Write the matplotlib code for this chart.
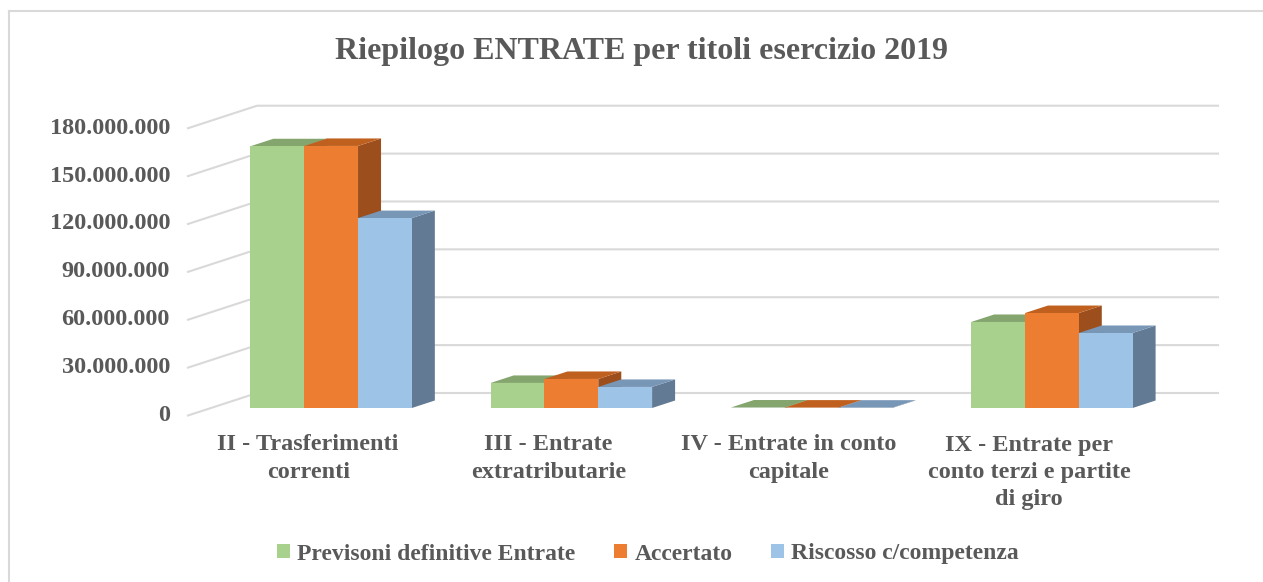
import matplotlib
matplotlib.use("Agg")
import matplotlib.pyplot as plt
from matplotlib.patches import Polygon, Patch
from matplotlib.lines import Line2D
import matplotlib.transforms as mtransforms
import numpy as np

categories = ["II - Trasferimenti\ncorrenti",
              "III - Entrate\nextratributarie",
              "IV - Entrate in conto\ncapitale",
              "IX - Entrate per\nconto terzi e partite\ndi giro"]
series_names = ["Previsoni definitive Entrate", "Accertato", "Riscosso c/competenza"]
previsioni = [164000000, 15700000, 300000, 53900000]
accertato = [164200000, 18200000, 250000, 59500000]
riscosso = [119000000, 13200000, 200000, 47000000]
yticks = [0, 30000000, 60000000, 90000000, 120000000, 150000000, 180000000]
ytick_labels = ["0", "30.000.000", "60.000.000", "90.000.000",
                "120.000.000", "150.000.000", "180.000.000"]
title = "Riepilogo ENTRATE per titoli esercizio 2019"

front_cols = ["#A9D18E", "#ED7D31", "#9DC3E6"]
top_cols = ["#84A56E", "#C0601F", "#7896B6"]
side_cols = ["#6E8C5A", "#9C4F1C", "#627A93"]
txt_col = "#595959"
grid_col = "#D9D9D9"
FONT = "Liberation Serif"

W, H = 1263, 582
fig = plt.figure(figsize=(W / 100, H / 100), dpi=100)
x_left, x_right = 211, 1172
y_bot, y_top = 408, 408 - 180 * 1.596
ax = fig.add_axes([x_left / W, 1 - y_bot / H, (x_right - x_left) / W, (y_bot - y_top) / H])
ax.set_xlim(-0.5, 3.5)
ax.set_ylim(0, 180000000)
ax.axis("off")

FRONT = (-23, -7.5)   # floor front relative to bar plane (display px, y up)
BACK = (46, 15)       # back wall relative to bar plane
DEPTH = (23, 7.5)     # bar depth

def disp(x, y, off=(0, 0)):
    p = ax.transData.transform((x, y))
    return (p[0] + off[0], p[1] + off[1])

ident = mtransforms.IdentityTransform()

for v in yticks:
    a = disp(-0.5, v, FRONT)
    b = disp(-0.5, v, BACK)
    c = disp(3.5, v, BACK)
    ln = Line2D([a[0], b[0], c[0]], [a[1], b[1], c[1]], transform=ident,
                color=grid_col, lw=1.5, zorder=1, clip_on=False)
    ax.add_line(ln)

for v, lab in zip(yticks, ytick_labels):
    a = disp(-0.5, v, FRONT)
    fig.text(a[0] - 18, a[1], lab, transform=ident, ha="right", va="center",
             fontsize=17.5, fontweight="bold", color=txt_col, family=FONT)

n = len(categories)
bw = 0.224
data = [previsioni, accertato, riscosso]
z = 2
for i in range(n):
    for s in range(3):
        v = data[s][i]
        x0 = i + (s - 1.5) * bw
        x1 = x0 + bw
        side = [disp(x1, 0), disp(x1, 0, DEPTH), disp(x1, v, DEPTH), disp(x1, v)]
        ax.add_patch(Polygon(side, closed=True, transform=ident, facecolor=side_cols[s],
                             edgecolor="none", zorder=z, clip_on=False)); z += 0.01
        top = [disp(x0, v), disp(x1, v), disp(x1, v, DEPTH), disp(x0, v, DEPTH)]
        ax.add_patch(Polygon(top, closed=True, transform=ident, facecolor=top_cols[s],
                             edgecolor="none", zorder=z, clip_on=False)); z += 0.01
        ax.bar(x0, v, width=bw, align="edge", color=front_cols[s], edgecolor="none",
               zorder=z, clip_on=False); z += 0.01

for i, lab in enumerate(categories):
    a = disp(i, 0, FRONT)
    fig.text(a[0], a[1] - 19, lab, transform=ident, ha="center", va="top",
             fontsize=17.5, fontweight="bold", color=txt_col, family=FONT,
             linespacing=1.38)

fig.text(0.5 * (338 + 945) / W, 1 - 51 / H, title, ha="center", va="center",
         fontsize=23, fontweight="bold", color=txt_col, family=FONT)

handles = [Patch(facecolor=c, edgecolor="none") for c in front_cols]
leg = fig.legend(handles, series_names, loc="center", bbox_to_anchor=(648 / W, 1 - 554 / H),
                 ncol=3, frameon=False, handlelength=0.55, handleheight=0.55,
                 handletextpad=0.3, columnspacing=1.65,
                 prop={"family": FONT, "weight": "bold", "size": 17})
for t in leg.get_texts():
    t.set_color(txt_col)

fig.add_artist(Line2D([9 / W, 9 / W], [0, 1 - 11 / H], transform=fig.transFigure,
                      color="#D9D9D9", lw=1.5))
fig.add_artist(Line2D([9 / W, 1], [1 - 11 / H, 1 - 11 / H], transform=fig.transFigure,
                      color="#D9D9D9", lw=1.5))

fig.savefig("out.png", dpi=100, facecolor="white")
